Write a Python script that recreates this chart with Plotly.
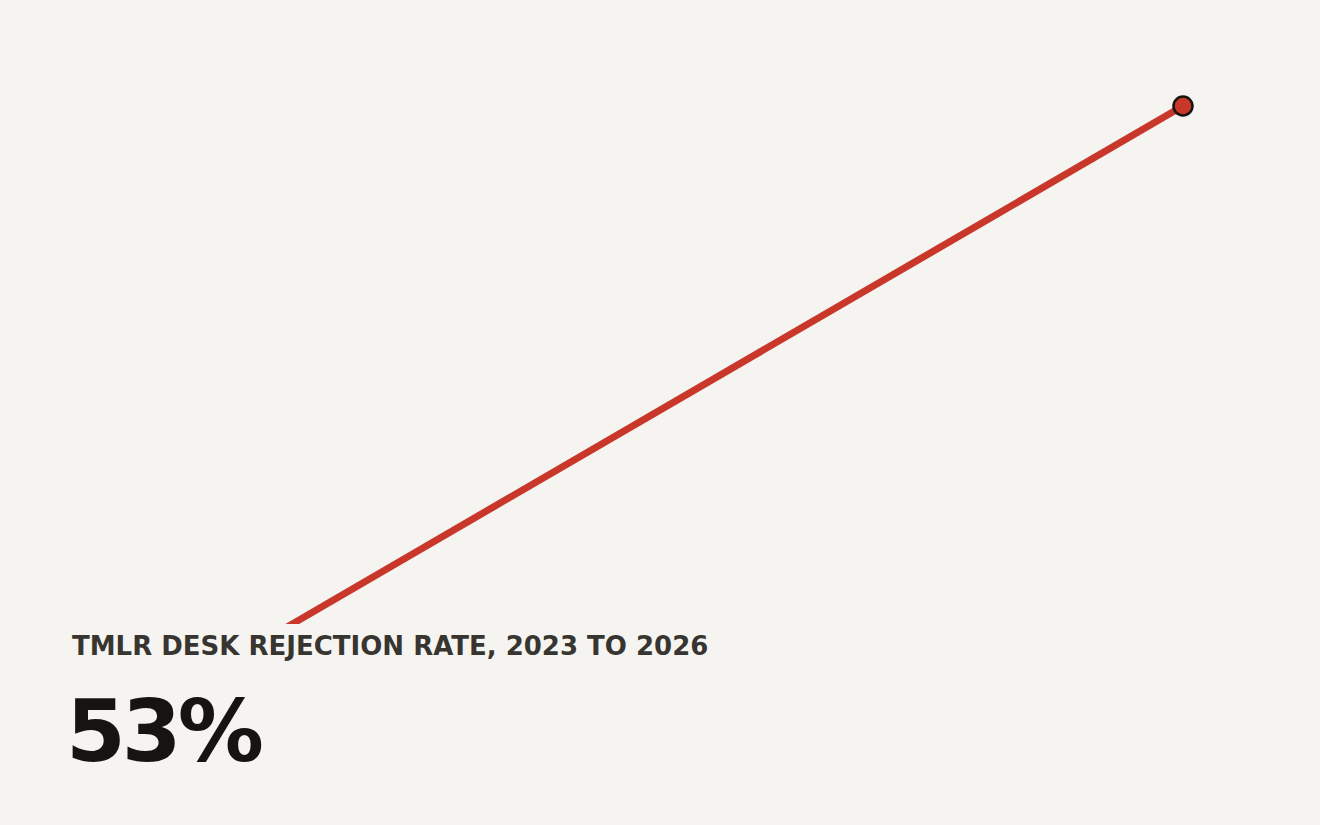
import plotly.graph_objects as go

# data
years = [2023, 2026]
rejection_rate = [12, 53]

title_text = "TMLR DESK REJECTION RATE, 2023 TO 2026"
headline = "53%"

BG = "#f5f4f0"
RED = "#c9372a"
INK = "#161410"

fig = go.Figure()

fig.add_trace(
    go.Scatter(
        x=years,
        y=rejection_rate,
        mode="lines",
        line=dict(color=RED, width=7),
        cliponaxis=False,
        hoverinfo="skip",
    )
)

# end point marker
fig.add_trace(
    go.Scatter(
        x=years[-1:],
        y=rejection_rate[-1:],
        mode="markers",
        marker=dict(size=19, color=RED, line=dict(color=INK, width=2.5)),
        cliponaxis=False,
        hoverinfo="skip",
    )
)

# panel behind the text hides the start of the line
fig.add_shape(
    type="rect",
    xref="paper",
    yref="paper",
    x0=-0.2,
    x1=1.3,
    y0=-0.2,
    y1=0.198,
    fillcolor=BG,
    line=dict(width=0),
    layer="above",
)

fig.add_annotation(
    text=f"<b>{title_text}</b>",
    xref="paper",
    yref="paper",
    x=-0.0018,
    y=0.164,
    xanchor="left",
    yanchor="middle",
    showarrow=False,
    font=dict(family="DejaVu Sans", size=26, color="#383531"),
)

fig.add_annotation(
    text=f"<span style='letter-spacing:-4px'><b>{headline}</b></span>",
    xref="paper",
    yref="paper",
    x=-0.0068,
    y=0.033,
    xanchor="left",
    yanchor="middle",
    showarrow=False,
    font=dict(family="DejaVu Sans", size=86, color=INK),
)

fig.update_layout(
    width=1320,
    height=825,
    paper_bgcolor=BG,
    plot_bgcolor=BG,
    showlegend=False,
    margin=dict(l=72, r=137, t=106, b=73),
    xaxis=dict(range=[years[0], years[-1]], visible=False),
    yaxis=dict(range=[rejection_rate[0], rejection_rate[-1]], visible=False),
)

fig.write_html(
    "out.html",
    config={"displayModeBar": False},
    post_script="document.body.style.margin='0';document.body.style.background='" + BG + "';",
)
